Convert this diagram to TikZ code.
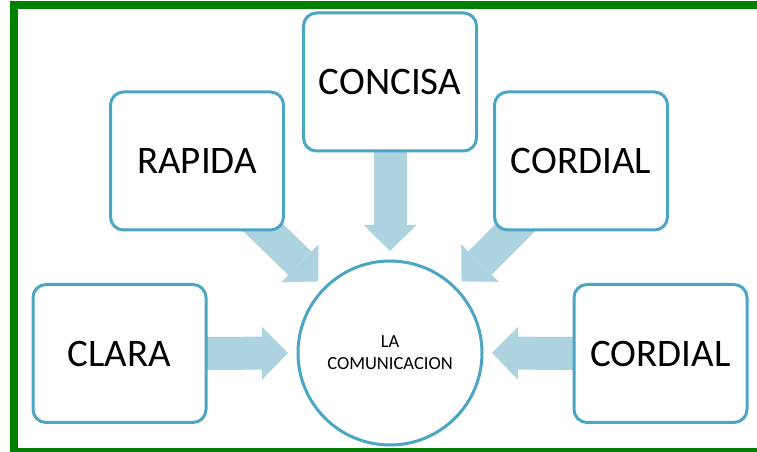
\documentclass[tikz,border=0pt]{standalone}
\usepackage{fontspec}
\setmainfont{Carlito}
\usetikzlibrary{arrows.meta,backgrounds}
\definecolor{framegreen}{HTML}{008000}
\definecolor{boxline}{HTML}{4BA5C3}
\definecolor{arrowfill}{HTML}{AED3E0}
\tikzset{
  box/.style={draw=boxline, line width=3pt, fill=white, rounded corners=13pt,
    minimum width=173pt, minimum height=138pt, inner sep=0pt, outer sep=0pt,
    font=\fontsize{39}{47}\selectfont, text=black},
  hub/.style={circle, draw=boxline, line width=3pt, fill=white, minimum size=184pt,
    inner sep=0pt, outer sep=0pt, align=center,
    font=\fontsize{18.5}{22}\selectfont, text=black},
  blockarrow/.style={draw=arrowfill, line width=33pt,
    -{Triangle[width=53pt,length=26pt,line width=0pt]}}
}
\begin{document}
\begin{tikzpicture}[x=1pt,y=1pt]
\useasboundingbox (0,0) rectangle (757,452);
\begin{scope}
  \clip (0,0) rectangle (757,452);
  \draw[framegreen, line width=8pt] (800,447) -- (14,447) -- (14,0) -- (800,0);
\end{scope}
\node[box] (concisa) at (390,370) {CONCISA};
\node[box] (rapida) at (197,291) {RAPIDA};
\node[box] (cord1) at (581,291) {CORDIAL};
\node[box] (clara) at (119.5,98.5) {CLARA};
\node[box] (cord2) at (660.5,98.5) {CORDIAL};
\node[hub] (hub) at (390,99) {LA\\COMUNICACION};
\begin{scope}[on background layer]
  \draw[blockarrow] ([xshift=-5pt]clara.east) -- ([xshift=-10pt]hub.west);
  \draw[blockarrow] ([xshift=5pt]cord2.west) -- ([xshift=10pt]hub.east);
  \draw[blockarrow] ([yshift=5pt]concisa.south) -- ([yshift=10pt]hub.north);
  \draw[blockarrow] ([shift={(-38.5pt,20pt)}]rapida.south east) -- ([shift={(-6.5pt,6.5pt)}]hub.north west);
  \draw[blockarrow] ([shift={(38.5pt,20pt)}]cord1.south west) -- ([shift={(6.5pt,6.5pt)}]hub.north east);
\end{scope}
\end{tikzpicture}
\end{document}
